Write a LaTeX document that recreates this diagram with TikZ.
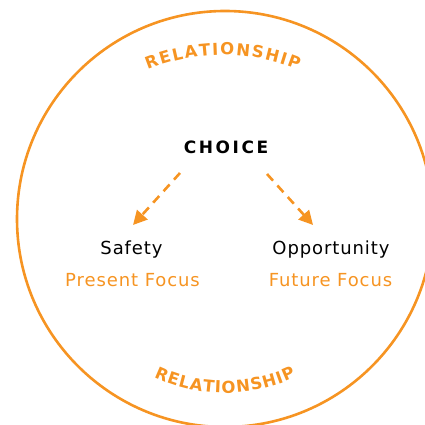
\documentclass[tikz,border=0pt]{standalone}
\usepackage{fontspec}
\setmainfont{Liberation Sans}
\newfontfamily\heavyfont{DejaVu Sans}
\usetikzlibrary{arrows.meta}
\definecolor{orng}{RGB}{246,148,34}
\begin{document}
\begin{tikzpicture}[x=1pt,y=1pt,
  ring/.style={draw=orng,line width=2.6pt},
  arc letter/.style={font=\heavyfont\fontsize{16.5}{16.5}\selectfont\bfseries,text=orng,inner sep=0pt,text height=12pt,text depth=0pt,anchor=center},
  titletext/.style={font=\heavyfont\fontsize{17}{17}\selectfont\bfseries\addfontfeature{LetterSpace=15},text=black,inner sep=0pt,anchor=center},
  maintext/.style={font=\heavyfont\fontsize{18}{18}\selectfont\addfontfeature{LetterSpace=5},text=black,inner sep=0pt,anchor=base},
  subtext/.style={font=\heavyfont\fontsize{18}{18}\selectfont\addfontfeature{LetterSpace=5},text=orng,inner sep=0pt,anchor=base},
  choicearrow/.style={draw=orng,line width=2.6pt,dash pattern=on 9pt off 6.5pt,-{Triangle[length=14pt,width=14pt]}}
]
\useasboundingbox (0,0) rectangle (425,425);
\clip (0,0) rectangle (425,425);
% outer ring
\draw[ring] (225,206) circle[radius=208pt];
% arc text centres
\coordinate (ct) at (223,171);
\coordinate (cb) at (225,198);
\foreach \l/\a [count=\i] in {R/110.40,E/106.49,L/102.88,A/99.07,T/95.14,I/92.15,O/88.78,N/84.34,S/80.19,H/76.04,I/72.70,P/69.60}
  \node[arc letter,rotate=\a-90] (top\i) at ([shift={(\a:205pt)}]ct) {\l};
\foreach \l/\a [count=\i] in {R/246.80,E/251.27,L/255.36,A/259.72,T/264.21,I/267.51,O/271.29,N/276.45,S/281.24,H/286.02,I/289.77,P/293.21}
  \node[arc letter,rotate=\a-270] (bot\i) at ([shift={(\a:160pt)}]cb) {\l};
% texts
\node[titletext] (choice) at (226,278) {CHOICE};
\node[maintext] (safety) at (131.5,170) {Safety};
\node[maintext] (opportunity) at (331,170) {Opportunity};
\node[subtext] (present) at (132.5,138) {Present Focus};
\node[subtext] (future) at (330.5,138) {Future Focus};
% arrows
\coordinate (ls) at (180,252);
\coordinate (le) at (133,200);
\coordinate (rs) at (267,251);
\coordinate (re) at (313,200);
\draw[choicearrow] (ls) -- (le);
\draw[choicearrow] (rs) -- (re);
\end{tikzpicture}
\end{document}
